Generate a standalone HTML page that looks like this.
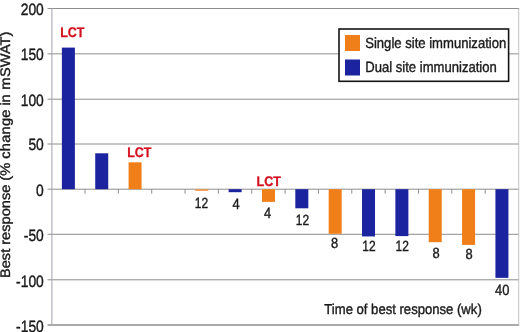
<!DOCTYPE html>
<html><head><meta charset="utf-8"><title>chart</title>
<style>
html,body{margin:0;padding:0;background:#fff;}
body{width:520px;height:332px;overflow:hidden;}
#w{position:relative;width:520px;height:332px;}
svg{display:block;position:absolute;left:0;top:0;}
#t{will-change:transform;filter:blur(0.45px);}
text{font-family:"Liberation Sans",sans-serif;fill:#1a1a1a;stroke:#1a1a1a;stroke-width:0.4px;text-rendering:geometricPrecision;}
.b{font-weight:bold;fill:#d4101f;stroke:#d4101f;stroke-width:0.3px;}
</style></head><body>
<div id="w">
<svg width="520" height="332" viewBox="0 0 520 332">
<rect x="0" y="0" width="520" height="332" fill="#ffffff"/>
<line x1="47.5" y1="8.50" x2="519.20" y2="8.50" stroke="#8e8e8e" stroke-width="1.0"/>
<line x1="47.5" y1="53.85" x2="519.20" y2="53.85" stroke="#8e8e8e" stroke-width="1.0"/>
<line x1="47.5" y1="99.20" x2="519.20" y2="99.20" stroke="#8e8e8e" stroke-width="1.0"/>
<line x1="47.5" y1="144.00" x2="519.20" y2="144.00" stroke="#8e8e8e" stroke-width="1.0"/>
<line x1="47.5" y1="189.20" x2="519.20" y2="189.20" stroke="#8e8e8e" stroke-width="1.0"/>
<line x1="47.5" y1="234.30" x2="519.20" y2="234.30" stroke="#8e8e8e" stroke-width="1.0"/>
<line x1="47.5" y1="279.80" x2="519.20" y2="279.80" stroke="#8e8e8e" stroke-width="1.0"/>
<line x1="47.5" y1="324.90" x2="519.20" y2="324.90" stroke="#8e8e8e" stroke-width="1.5"/>
<line x1="518.70" y1="8.5" x2="518.70" y2="324.8" stroke="#c2c2c2" stroke-width="1"/>
<line x1="51.90" y1="8" x2="51.90" y2="325.3" stroke="#a2a2aa" stroke-width="1"/>
<line x1="85.00" y1="189.20" x2="85.00" y2="193.70" stroke="#8e8e8e" stroke-width="1"/>
<line x1="118.35" y1="189.20" x2="118.35" y2="193.70" stroke="#8e8e8e" stroke-width="1"/>
<line x1="151.70" y1="189.20" x2="151.70" y2="193.70" stroke="#8e8e8e" stroke-width="1"/>
<line x1="185.05" y1="189.20" x2="185.05" y2="193.70" stroke="#8e8e8e" stroke-width="1"/>
<line x1="218.40" y1="189.20" x2="218.40" y2="193.70" stroke="#8e8e8e" stroke-width="1"/>
<line x1="251.75" y1="189.20" x2="251.75" y2="193.70" stroke="#8e8e8e" stroke-width="1"/>
<line x1="285.10" y1="189.20" x2="285.10" y2="193.70" stroke="#8e8e8e" stroke-width="1"/>
<line x1="318.45" y1="189.20" x2="318.45" y2="193.70" stroke="#8e8e8e" stroke-width="1"/>
<line x1="351.80" y1="189.20" x2="351.80" y2="193.70" stroke="#8e8e8e" stroke-width="1"/>
<line x1="385.15" y1="189.20" x2="385.15" y2="193.70" stroke="#8e8e8e" stroke-width="1"/>
<line x1="418.50" y1="189.20" x2="418.50" y2="193.70" stroke="#8e8e8e" stroke-width="1"/>
<line x1="451.85" y1="189.20" x2="451.85" y2="193.70" stroke="#8e8e8e" stroke-width="1"/>
<line x1="485.20" y1="189.20" x2="485.20" y2="193.70" stroke="#8e8e8e" stroke-width="1"/>
<rect x="61.88" y="47.60" width="13.00" height="141.60" fill="#1b239f"/>
<rect x="95.23" y="153.30" width="13.00" height="35.90" fill="#1b239f"/>
<rect x="128.58" y="162.30" width="13.00" height="26.90" fill="#f07f1a"/>
<rect x="195.28" y="189.20" width="13.00" height="1.70" fill="#f2964a"/>
<rect x="228.63" y="189.20" width="13.00" height="3.00" fill="#1b239f"/>
<rect x="261.98" y="189.20" width="13.00" height="12.70" fill="#f07f1a"/>
<rect x="295.32" y="189.20" width="13.00" height="19.10" fill="#1b239f"/>
<rect x="328.68" y="189.20" width="13.00" height="44.60" fill="#f07f1a"/>
<rect x="362.02" y="189.20" width="13.00" height="47.25" fill="#1b239f"/>
<rect x="395.38" y="189.20" width="13.00" height="46.90" fill="#1b239f"/>
<rect x="428.73" y="189.20" width="13.00" height="53.00" fill="#f07f1a"/>
<rect x="462.07" y="189.20" width="13.00" height="55.70" fill="#f07f1a"/>
<rect x="495.43" y="189.20" width="13.00" height="88.65" fill="#1b239f"/>
<rect x="339" y="29" width="169.6" height="52.3" fill="#ffffff" stroke="#141414" stroke-width="1.6"/>
<rect x="345" y="35" width="15" height="16" fill="#f07f1a"/>
<rect x="345" y="59.5" width="15" height="16" fill="#1b239f"/>
</svg>
<svg id="t" width="520" height="332" viewBox="0 0 520 332">
<text transform="translate(43.80,14.90) scale(0.845,1.000)" font-size="16.40" text-anchor="end">200</text>
<text transform="translate(43.80,60.05) scale(0.845,1.000)" font-size="16.40" text-anchor="end">150</text>
<text transform="translate(43.80,105.60) scale(0.845,1.000)" font-size="16.40" text-anchor="end">100</text>
<text transform="translate(43.80,150.40) scale(0.845,1.000)" font-size="16.40" text-anchor="end">50</text>
<text transform="translate(43.80,195.60) scale(0.845,1.000)" font-size="16.40" text-anchor="end">0</text>
<text transform="translate(43.80,241.00) scale(0.845,1.000)" font-size="16.40" text-anchor="end">-<tspan dx="0.1">50</tspan></text>
<text transform="translate(43.80,286.70) scale(0.845,1.000)" font-size="16.40" text-anchor="end">-<tspan dx="0.1">100</tspan></text>
<text transform="translate(43.80,331.70) scale(0.845,1.000)" font-size="16.40" text-anchor="end">-<tspan dx="0.1">150</tspan></text>
<text transform="translate(9.80,278.00) rotate(-90) scale(1.000,0.950)" font-size="14.60">Best response (% <tspan letter-spacing="0.25">change</tspan><tspan dx="-0.3"> in</tspan><tspan dx="0.5"> m</tspan><tspan dx="0.5">SWAT)</tspan></text>
<text transform="translate(60.20,37.30) scale(0.890,1.000)" font-size="14.00" class="b">LCT</text>
<text transform="translate(127.20,157.00) scale(0.890,1.000)" font-size="14.00" class="b">LCT</text>
<text transform="translate(256.60,185.80) scale(0.890,1.000)" font-size="14.00" class="b">LCT</text>
<text transform="translate(201.50,207.50) scale(0.810,1.000)" font-size="14.80" text-anchor="middle">12</text>
<text transform="translate(236.00,208.50) scale(0.870,1.000)" font-size="14.80" text-anchor="middle">4</text>
<text transform="translate(267.50,217.80) scale(0.870,1.000)" font-size="14.80" text-anchor="middle">4</text>
<text transform="translate(302.40,224.70) scale(0.810,1.000)" font-size="14.80" text-anchor="middle">12</text>
<text transform="translate(334.70,247.80) scale(0.870,1.000)" font-size="14.80" text-anchor="middle">8</text>
<text transform="translate(369.00,250.70) scale(0.810,1.000)" font-size="14.80" text-anchor="middle">12</text>
<text transform="translate(402.20,250.70) scale(0.810,1.000)" font-size="14.80" text-anchor="middle">12</text>
<text transform="translate(436.00,257.50) scale(0.870,1.000)" font-size="14.80" text-anchor="middle">8</text>
<text transform="translate(469.20,259.30) scale(0.870,1.000)" font-size="14.80" text-anchor="middle">8</text>
<text transform="translate(502.20,295.00) scale(0.870,1.000)" font-size="14.80" text-anchor="middle">40</text>
<text transform="translate(324.30,313.60) scale(0.910,1.000)" font-size="14.40">Time of best response (wk)</text>
<text transform="translate(365.20,47.60) scale(0.884,1.000)" font-size="14.80">Single site immunization</text>
<text transform="translate(365.20,71.70) scale(0.884,1.000)" font-size="14.80">Dual site immunization</text>
</svg>
</div>
</body></html>
